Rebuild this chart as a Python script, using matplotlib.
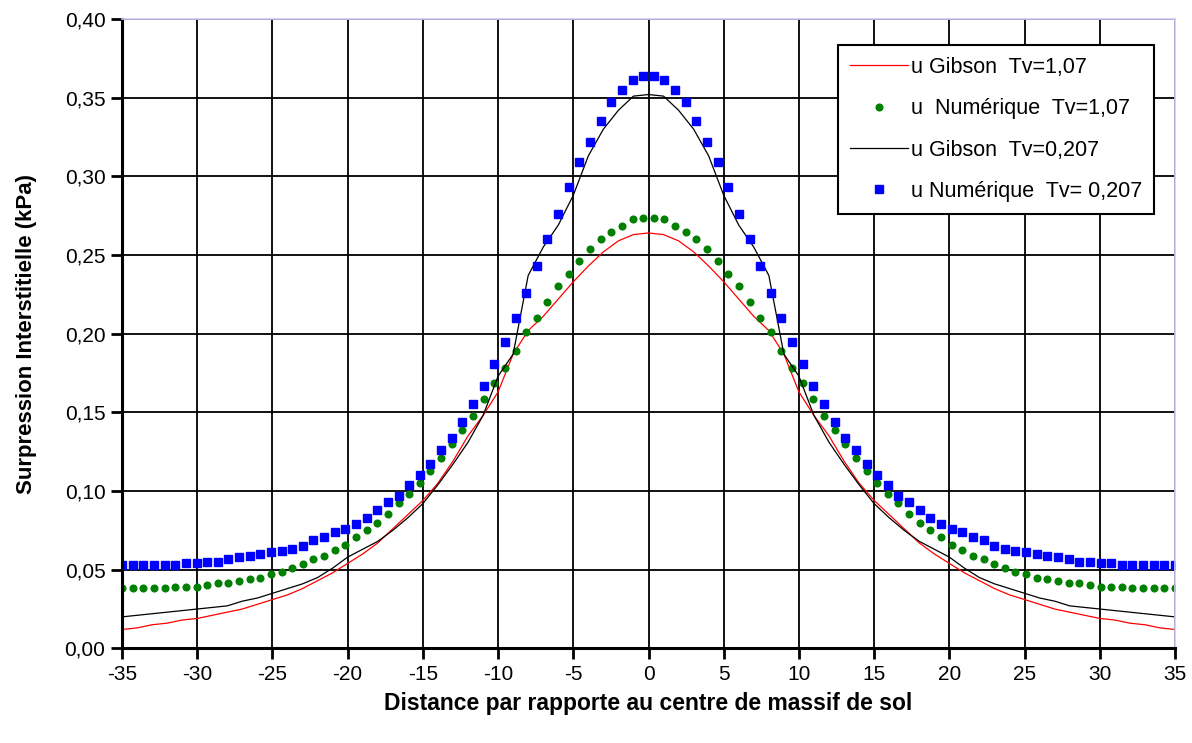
import numpy as np
import matplotlib
matplotlib.use("Agg")
import matplotlib.pyplot as plt
from matplotlib.ticker import FuncFormatter

plt.rcParams['font.family'] = ['Liberation Sans', 'DejaVu Sans']
plt.rcParams['axes.unicode_minus'] = False

# positions des points numeriques (100 points de -35 a 35)
x_num = np.linspace(-35, 35, 100)

# demi-courbes (x >= 0); le profil est symetrique
num_107_half = [0.2736, 0.2727, 0.2685, 0.2647, 0.2600, 0.2541, 0.2460, 0.2382, 0.2302, 0.2200,
                0.2100, 0.2008, 0.1890, 0.1780, 0.1687, 0.1588, 0.1478, 0.1387, 0.1298, 0.1207,
                0.1128, 0.1052, 0.0978, 0.0921, 0.0853, 0.0796, 0.0752, 0.0709, 0.0656, 0.0625,
                0.0586, 0.0567, 0.0534, 0.0512, 0.0487, 0.0472, 0.0449, 0.0438, 0.0428, 0.0417,
                0.0413, 0.0402, 0.0391, 0.0391, 0.0391, 0.0381, 0.0381, 0.0381, 0.0381, 0.0381]
num_0207_half = [0.364, 0.361, 0.355, 0.347, 0.335, 0.322, 0.309, 0.293, 0.276, 0.260,
                 0.243, 0.226, 0.210, 0.195, 0.181, 0.167, 0.155, 0.144, 0.134, 0.126,
                 0.117, 0.110, 0.104, 0.097, 0.093, 0.088, 0.083, 0.079, 0.076, 0.074,
                 0.071, 0.069, 0.065, 0.063, 0.062, 0.061, 0.060, 0.059, 0.058, 0.057,
                 0.055, 0.055, 0.054, 0.054, 0.053, 0.053, 0.053, 0.053, 0.053, 0.053]

# solution de Gibson, x entiers de 0 a 35
x_gib_half = list(range(0, 36))
gib_107_half = [0.264, 0.263, 0.259, 0.252, 0.243, 0.233, 0.222, 0.211, 0.202, 0.187,
                0.163, 0.148, 0.135, 0.119, 0.105, 0.094, 0.085, 0.076, 0.067, 0.060,
                0.054, 0.048, 0.043, 0.038, 0.034, 0.031, 0.028, 0.025, 0.023, 0.021,
                0.019, 0.018, 0.016, 0.015, 0.013, 0.012]
gib_0207_half = [0.352, 0.351, 0.342, 0.330, 0.313, 0.288, 0.269, 0.255, 0.237, 0.187,
                 0.173, 0.148, 0.131, 0.117, 0.104, 0.092, 0.083, 0.075, 0.068, 0.063,
                 0.058, 0.051, 0.045, 0.041, 0.038, 0.035, 0.032, 0.030, 0.027, 0.026,
                 0.025, 0.024, 0.023, 0.022, 0.021, 0.020]

num_107 = num_107_half[::-1] + num_107_half
num_0207 = num_0207_half[::-1] + num_0207_half
x_gib = [-v for v in x_gib_half[:0:-1]] + x_gib_half
gib_107 = gib_107_half[:0:-1] + gib_107_half
gib_0207 = gib_0207_half[:0:-1] + gib_0207_half

fig = plt.figure(figsize=(11.92, 7.43), dpi=100)
ax = fig.add_axes([0.1024, 0.1274, 0.8833, 0.847])

ax.plot(x_gib, gib_107, color='red', lw=0.9, label='u Gibson  Tv=1,07')
ax.plot(x_num, num_107, ls='none', marker='o', ms=4.8, color='#008000',
        label='u  Numérique  Tv=1,07')
ax.plot(x_gib, gib_0207, color='black', lw=0.9, label='u Gibson  Tv=0,207')
ax.plot(x_num, num_0207, ls='none', marker='s', ms=6, color='#0000ff',
        label='u Numérique  Tv= 0,207')

ax.set_xlim(-35, 35)
ax.set_ylim(0, 0.40)
ax.set_xticks(np.arange(-35, 36, 5))
ax.set_yticks(np.arange(0, 0.401, 0.05))
ax.yaxis.set_major_formatter(FuncFormatter(lambda v, p: f"{v:.2f}".replace('.', ',')))
ax.grid(True, color='black', lw=1.3)
ax.set_axisbelow(True)

for s in ['top', 'right']:
    ax.spines[s].set_color('#ccccff')
    ax.spines[s].set_linewidth(1.2)
for s in ['left', 'bottom']:
    ax.spines[s].set_linewidth(2.2)
ax.tick_params(direction='out', length=8, width=2, labelsize=15, pad=4)

ax.set_xlabel('Distance par rapporte au centre de massif de sol', fontsize=16.5,
              fontweight='bold', labelpad=6)
ax.set_ylabel('Surpression Interstitielle (kPa)', fontsize=16, fontweight='bold',
              labelpad=20)

leg = ax.legend(loc='upper left', bbox_to_anchor=(0.68, 0.959), borderaxespad=0,
                fontsize=15.5, frameon=True, fancybox=False, framealpha=1,
                edgecolor='black', handlelength=2.7, labelspacing=0.95,
                borderpad=0.55, handletextpad=0.15)
leg.get_frame().set_linewidth(1.5)

fig.savefig('out.png', dpi=100)
